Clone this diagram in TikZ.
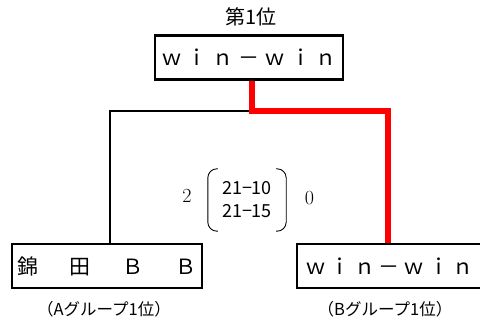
\documentclass[tikz,border=0pt]{standalone}
\usepackage{fontspec}
\usepackage{tikz}
\usetikzlibrary{positioning,calc}
\newfontfamily\jfont{Noto Sans CJK JP}
\definecolor{WinRed}{HTML}{FF0000}
\newcommand{\spread}[2]{\makebox[#1][s]{#2}}

\begin{document}
\begin{tikzpicture}[
  x=1pt,y=-1pt,
  team/.style={draw=black,line width=2.2pt,inner sep=0pt,
               font=\jfont\fontsize{21pt}{24pt}\selectfont,minimum height=44pt},
  title/.style={inner sep=0pt,font=\jfont\fontsize{20pt}{24pt}\selectfont},
  grp/.style={inner sep=0pt,font=\jfont\fontsize{16.5pt}{19pt}\selectfont},
  score/.style={inner sep=0pt,align=center,minimum width=78pt,minimum height=62pt,
                font=\jfont\fontsize{18pt}{23pt}\selectfont},
  pts/.style={inner sep=0pt,font=\fontsize{20pt}{22pt}\selectfont},
  loser/.style={line width=2.2pt,black},
  winner/.style={line width=6pt,WinRed},
  paren/.style={line width=0.9pt,rounded corners=9pt}
]
\useasboundingbox (0,0) rectangle (480,326);
\node[title] (rank) at (251,16.5) {第1位};
\node[team,minimum width=188pt] (champ) at (249,57.5)
  {\spread{176pt}{ｗ\hfill ｉ\hfill ｎ\hfill －\hfill ｗ\hfill ｉ\hfill ｎ}};
\node[team,minimum width=190pt] (teamA) at (107,266)
  {\spread{180pt}{錦\hfill 田\hfill Ｂ\hfill Ｂ}};
\node[team,minimum width=185pt] (teamB) at (389.5,266)
  {\spread{169pt}{ｗ\hfill ｉ\hfill ｎ\hfill －\hfill ｗ\hfill ｉ\hfill ｎ}};
\node[grp] (grpA) at (104,309) {（Aグループ1位）};
\node[grp] (grpB) at (385,309) {（Bグループ1位）};
\coordinate (join) at (252,111);
\draw[loser] ([xshift=3pt]teamA.north) |- (join);
\draw[winner] ([xshift=3pt]champ.south) -- (join) -| ([xshift=-1.5pt]teamB.north);
\node[score] (sc) at (247,200) {21−10\\21−15};
\draw[paren] ([xshift=10pt]sc.north west) -- (sc.north west)
      -- (sc.south west) -- ([xshift=10pt]sc.south west);
\draw[paren] ([xshift=-10pt]sc.north east) -- (sc.north east)
      -- (sc.south east) -- ([xshift=-10pt]sc.south east);
\node[pts] (ptsA) at (187,196) {2};
\node[pts] (ptsB) at (309.5,198) {0};
\end{tikzpicture}
\end{document}
